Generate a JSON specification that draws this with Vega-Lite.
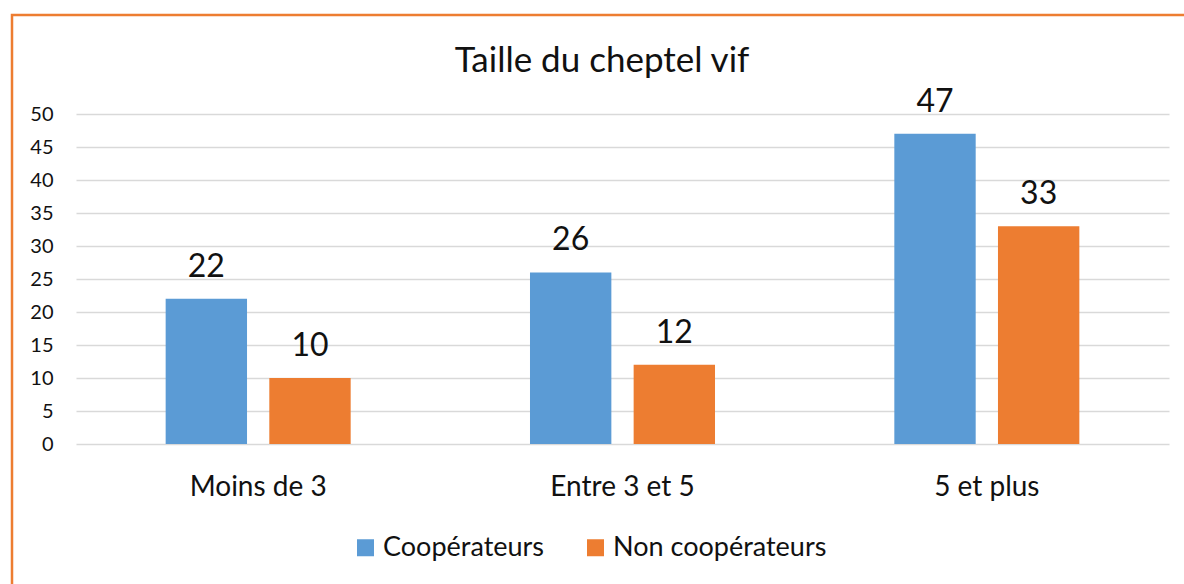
{
  "$schema": "https://vega.github.io/schema/vega-lite/v6.json",
  "autosize": {"type": "none"},
  "width": 1180,
  "height": 580,
  "padding": {"left": 12, "top": 15, "right": 0, "bottom": 0},
  "background": "white",
  "title": {
    "text": "Taille du cheptel vif",
    "font": "Lato",
    "fontSize": 35,
    "fontWeight": "normal",
    "color": "#111",
    "anchor": "middle",
    "frame": "group",
    "baseline": "alphabetic",
    "dy": 96
  },
  "config": {
    "view": {"stroke": "#ED7D31", "strokeWidth": 2.5},
    "font": "Lato"
  },
  "data": {
    "values": [
      {"categorie": "Moins de 3", "groupe": "Coopérateurs", "valeur": 22},
      {"categorie": "Moins de 3", "groupe": "Non coopérateurs", "valeur": 10},
      {"categorie": "Entre 3 et 5", "groupe": "Coopérateurs", "valeur": 26},
      {"categorie": "Entre 3 et 5", "groupe": "Non coopérateurs", "valeur": 12},
      {"categorie": "5 et plus", "groupe": "Coopérateurs", "valeur": 47},
      {"categorie": "5 et plus", "groupe": "Non coopérateurs", "valeur": 33}
    ]
  },
  "encoding": {
    "x": {
      "field": "categorie",
      "type": "nominal",
      "sort": ["Moins de 3", "Entre 3 et 5", "5 et plus"],
      "scale": {"range": [64, 1157], "paddingInner": 0, "paddingOuter": 0},
      "axis": {
        "title": null,
        "domain": false,
        "ticks": false,
        "tickSize": 0,
        "grid": false,
        "labelAngle": 0,
        "labelFont": "Lato",
        "labelFontSize": 28,
        "labelColor": "#111",
        "labelBaseline": "alphabetic",
        "labelPadding": 51,
        "offset": -151
      }
    },
    "xOffset": {
      "field": "groupe",
      "type": "nominal",
      "sort": ["Coopérateurs", "Non coopérateurs"],
      "scale": {"paddingInner": 0.215, "paddingOuter": 0.865}
    },
    "y": {
      "field": "valeur",
      "type": "quantitative",
      "scale": {"domain": [0, 50], "range": [429, 99], "nice": false},
      "axis": {
        "title": null,
        "domain": false,
        "ticks": false,
        "tickSize": 0,
        "values": [0, 5, 10, 15, 20, 25, 30, 35, 40, 45, 50],
        "grid": true,
        "gridColor": "#D9D9D9",
        "gridWidth": 1.5,
        "labelFont": "Lato",
        "labelFontSize": 20,
        "labelColor": "#111",
        "labelPadding": 23,
        "offset": -64
      }
    }
  },
  "layer": [
    {
      "mark": {"type": "bar"},
      "encoding": {
        "color": {
          "field": "groupe",
          "type": "nominal",
          "scale": {"domain": ["Coopérateurs", "Non coopérateurs"], "range": ["#5B9BD5", "#ED7D31"]},
          "legend": {
            "title": null,
            "orient": "none",
            "direction": "horizontal",
            "legendX": 340,
            "legendY": 519,
            "padding": 0,
            "symbolType": "square",
            "symbolSize": 289,
            "symbolStrokeWidth": 0,
            "labelFont": "Lato",
            "labelFontSize": 27,
            "labelColor": "#111",
            "labelOffset": 4,
            "labelLimit": 500,
            "columnPadding": 38
          }
        }
      }
    },
    {
      "mark": {"type": "text", "font": "Lato", "fontSize": 32, "color": "#111", "baseline": "alphabetic", "dy": -22},
      "encoding": {
        "text": {"field": "valeur", "type": "quantitative"}
      }
    }
  ]
}
